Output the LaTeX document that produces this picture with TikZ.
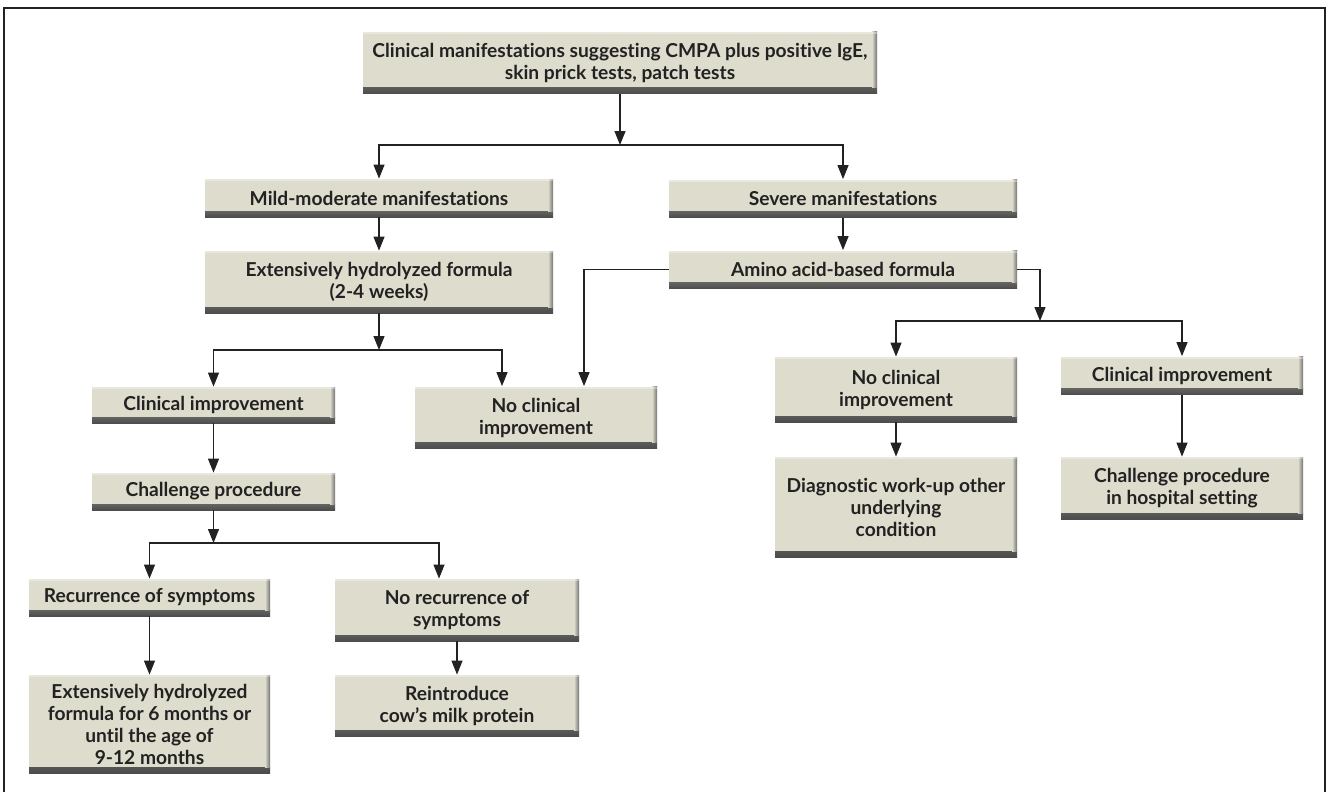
\documentclass[tikz,border=0pt]{standalone}
\usepackage{fontspec}
\setmainfont{Lato}[Ligatures={NoCommon,NoRare,NoContextual}]
\usepackage{tikz}
\usetikzlibrary{arrows.meta}
\definecolor{boxfill}{RGB}{222,220,204}
\definecolor{inkgray}{RGB}{34,34,34}
\newcommand{\flowFont}[0]{\fontsize{9.6pt}{11pt}\selectfont\bfseries}

\begin{document}
\begin{tikzpicture}[x=0.5pt, y=-0.5pt]
  \tikzset{flowbox/.style={fill=boxfill, inner sep=0pt, align=center, text=inkgray,
      font=\flowFont,
      path picture={
        \shade[top color=boxfill, bottom color=black!70]
          ([yshift=3pt]path picture bounding box.south west) rectangle (path picture bounding box.south east);
        \shade[left color=boxfill, right color=black!55]
          ([xshift=-2.5pt]path picture bounding box.north east) rectangle ([yshift=3pt]path picture bounding box.south east);
        \fill[white, opacity=0.35]
          (path picture bounding box.north west) rectangle ([yshift=-1pt]path picture bounding box.north east);
      }},
    conn/.style={-{Triangle[length=7pt, width=5.5pt]}, line width=0.6pt, inkgray}}
  \useasboundingbox (0,0) rectangle (1332,792);
  \draw[line width=1pt, inkgray] (4,792) -- (4,8) -- (1325,8) -- (1325,792);

  \node[flowbox, minimum width=257pt, minimum height=31pt] (cmpa) at (620,63)
    {Clinical manifestations suggesting CMPA plus positive IgE,\\skin prick tests, patch tests};
  \node[flowbox, minimum width=174pt, minimum height=19pt] (mild) at (379,198) {Mild-moderate manifestations};
  \node[flowbox, minimum width=174pt, minimum height=19pt] (severe) at (843,198.5) {Severe manifestations};
  \node[flowbox, minimum width=174pt, minimum height=31pt] (ehf) at (379,282)
    {Extensively hydrolyzed formula\\(2-4 weeks)};
  \node[flowbox, minimum width=174pt, minimum height=19pt] (amino) at (843,269.5) {Amino acid-based formula};
  \node[flowbox, minimum width=121.5pt, minimum height=18pt] (improve) at (213.5,405) {Clinical improvement};
  \node[flowbox, minimum width=121pt, minimum height=31pt] (noimprove) at (536,417.5) {No clinical\\improvement};
  \node[flowbox, minimum width=121pt, minimum height=32.5pt] (noimproveR) at (896,389.5) {No clinical\\improvement};
  \node[flowbox, minimum width=121pt, minimum height=19pt] (improveR) at (1182,375.5) {Clinical improvement};
  \node[flowbox, minimum width=121pt, minimum height=50pt] (workup) at (896,507)
    {Diagnostic work-up other\\underlying\\condition};
  \node[flowbox, minimum width=121pt, minimum height=31pt] (hospital) at (1182,488)
    {Challenge procedure\\in hospital setting};
  \node[flowbox, minimum width=121.5pt, minimum height=18.5pt] (challenge) at (213.5,491.5) {Challenge procedure};
  \node[flowbox, minimum width=120.5pt, minimum height=18.5pt] (recur) at (149.5,597.5) {Recurrence of symptoms};
  \node[flowbox, minimum width=122pt, minimum height=31pt] (norecur) at (457,610) {No recurrence of\\symptoms};
  \node[flowbox, minimum width=120.5pt, minimum height=49pt] (ehflong) at (149.5,724)
    {Extensively hydrolyzed\\formula for 6 months or\\until the age of\\9-12 months};
  \node[flowbox, minimum width=122pt, minimum height=30.5pt] (reintro) at (457,705.5)
    {Reintroduce\\cow's milk protein};

  \coordinate (splitTop) at (620,145);
  \coordinate (splitEhf) at (379,350);
  \coordinate (splitAmino) at (1040,321);
  \coordinate (splitChal) at (213.5,543);

  \draw[conn] (cmpa) -- (splitTop);
  \draw[conn] (splitTop) -| (mild);
  \draw[conn] (splitTop) -| (severe);
  \draw[conn] (mild) -- (ehf);
  \draw[conn] (severe) -- (amino);
  \draw[conn] (ehf) -- (splitEhf);
  \draw[conn] (splitEhf) -| (improve);
  \draw[conn] (splitEhf) -| ([xshift=-17pt]noimprove.north);
  \draw[conn] (amino.west) -| ([xshift=24pt]noimprove.north);
  \draw[conn] (amino.east) -| (splitAmino);
  \draw[conn] (splitAmino) -| (noimproveR);
  \draw[conn] (splitAmino) -| (improveR);
  \draw[conn] (noimproveR) -- (workup);
  \draw[conn] (improveR) -- (hospital);
  \draw[conn] (improve) -- (challenge);
  \draw[conn] (challenge) -- (splitChal);
  \draw[conn] (splitChal) -| (recur);
  \draw[conn] (splitChal) -| ([xshift=-9pt]norecur.north);
  \draw[conn] (recur) -- (ehflong);
  \draw[conn] (norecur) -- (reintro);
\end{tikzpicture}
\end{document}
